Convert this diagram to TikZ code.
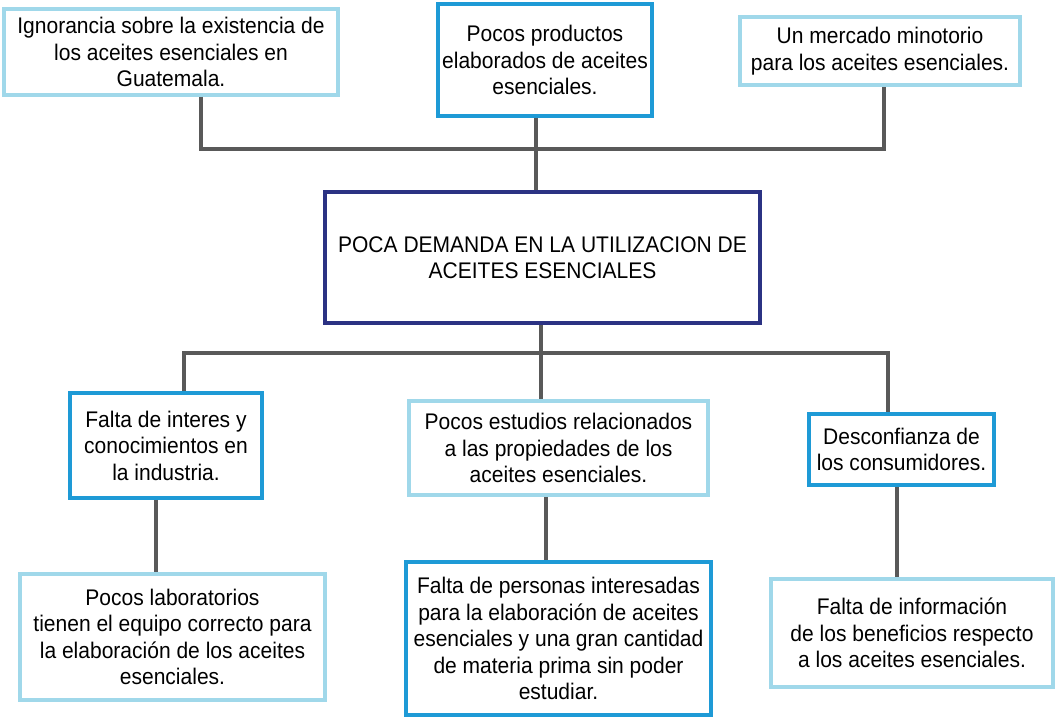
\documentclass[tikz,border=0pt]{standalone}
\usepackage{fontspec}
\setmainfont[FakeStretch=0.93]{Liberation Sans}
\definecolor{celeste}{HTML}{A0D8EA}
\definecolor{azul}{HTML}{1E9AD6}
\definecolor{marino}{HTML}{2B3283}
\definecolor{linea}{HTML}{595959}
\tikzset{
    caja/.style={draw, line width=3.5pt, fill=white, align=center, inner sep=0pt,
        font=\fontsize{22.6}{26.5}\selectfont},
    claro/.style={caja, draw=celeste},
    fuerte/.style={caja, draw=azul},
    rama/.style={draw=linea, line width=4pt},
}
\begin{document}
\begin{tikzpicture}[x=1pt, y=-1pt]
        \useasboundingbox (0,0) rectangle (1058,719);
        % efectos
        \node[claro, minimum width=334pt, minimum height=86pt] (ef1) at (171,52)
            {Ignorancia sobre la existencia de\\los aceites esenciales en\\Guatemala.};
        \node[fuerte, minimum width=214pt, minimum height=112pt] (ef2) at (545,60)
            {Pocos productos\\elaborados de aceites\\esenciales.};
        \node[claro, minimum width=280pt, minimum height=68pt] (ef3) at (880,51)
            {Un mercado minotorio\\para los aceites esenciales.};
        % problema
        \node[caja, draw=marino, minimum width=435pt, minimum height=131pt] (prob) at (542.5,257.5)
            {POCA DEMANDA EN LA UTILIZACION DE\\ACEITES ESENCIALES};
        % causas
        \node[fuerte, minimum width=192pt, minimum height=105pt] (ca1) at (166,445.5)
            {Falta de interes y\\conocimientos en\\la industria.};
        \node[claro, minimum width=299pt, minimum height=94pt] (ca2) at (558.5,448)
            {Pocos estudios relacionados\\a las propiedades de los\\aceites esenciales.};
        \node[fuerte, minimum width=185pt, minimum height=71pt] (ca3) at (901.5,449.5)
            {Desconfianza de\\los consumidores.};
        % subcausas
        \node[claro, minimum width=305pt, minimum height=126pt] (sub1) at (172.5,637)
            {Pocos laboratorios\\tienen el equipo correcto para\\la elaboración de los aceites\\esenciales.};
        \node[fuerte, minimum width=305pt, minimum height=153pt] (sub2) at (558.5,638.5)
            {Falta de personas interesadas\\para la elaboración de aceites\\esenciales y una gran cantidad\\de materia prima sin poder\\estudiar.};
        \node[claro, minimum width=282pt, minimum height=108pt] (sub3) at (912,633)
            {Falta de información\\de los beneficios respecto\\a los aceites esenciales.};
        % conectores
        \coordinate (bsup) at (536,149);
        \coordinate (binf) at (541,353);
        \draw[rama] ([xshift=30pt]ef1.south) |- (bsup) -| ([xshift=4pt]ef3.south);
        \draw[rama] (ef2.south -| bsup) -- (prob.north -| bsup);
        \draw[rama] ([xshift=18pt]ca1.north) |- (binf) -| ([xshift=-13.5pt]ca3.north);
        \draw[rama] (prob.south -| binf) -- (ca2.north -| binf);
        \draw[rama] ([xshift=-10pt]ca1.south) -- ([xshift=-10pt]ca1.south |- sub1.north);
        \draw[rama] ([xshift=-12.5pt]ca2.south) -- ([xshift=-12.5pt]ca2.south |- sub2.north);
        \draw[rama] ([xshift=-4.5pt]ca3.south) -- ([xshift=-4.5pt]ca3.south |- sub3.north);
\end{tikzpicture}
\end{document}
